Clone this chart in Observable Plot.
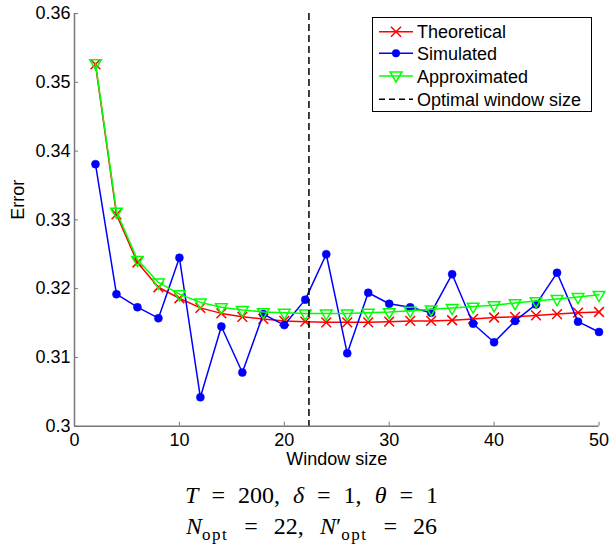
<!DOCTYPE html>
<html>
<head>
<meta charset="utf-8">
<script src="https://cdn.jsdelivr.net/npm/d3@7"></script>
<script src="https://cdn.jsdelivr.net/npm/@observablehq/plot@0.6"></script>
<style>
  body { margin: 0; background: white; }
  #wrap { position: relative; width: 609px; height: 545px; overflow: hidden; background: white; }
  .cap { position: absolute; left: 7px; width: 609px; text-align: center; font-family: "Liberation Serif", "DejaVu Serif", serif; font-size: 24px; line-height: 24px; word-spacing: 7px; white-space: nowrap; color: black; }
  .cap i { font-style: italic; }
  .cap sub { font-size: 17px; font-style: normal; letter-spacing: 1.5px; }
  #legend { position: absolute; left: 372px; top: 17px; }
</style>
</head>
<body>
<div id="wrap"></div>
<script>
// ---- data ----
const windowSize = [2,4,6,8,10,12,14,16,18,20,22,24,26,28,30,32,34,36,38,40,42,44,46,48,50];
const theoretical = [0.3526,0.3308,0.3238,0.3202,0.3186,0.3172,0.3164,0.3159,0.3156,0.3153,0.3152,0.3151,0.3151,0.3151,0.3152,0.3153,0.3153,0.3154,0.3156,0.3158,0.3159,0.3161,0.3163,0.3165,0.3166];
const simulated = [0.3381,0.3192,0.3173,0.3157,0.3245,0.3042,0.3145,0.3078,0.3163,0.3147,0.3184,0.3250,0.3106,0.3194,0.3178,0.3173,0.3165,0.3221,0.3149,0.3122,0.3153,0.3177,0.3223,0.3152,0.3137];
const approximated = [0.3528,0.3312,0.3242,0.3209,0.3192,0.3180,0.3173,0.3169,0.3166,0.3165,0.3164,0.3164,0.3164,0.3165,0.3166,0.3168,0.3170,0.3172,0.3174,0.3176,0.3179,0.3182,0.3185,0.3188,0.3191];
const optimalWindow = [22.35];
const xTicks = [0,10,20,30,40,50];
const yTicks = [0.30,0.31,0.32,0.33,0.34,0.35,0.36];
const yTickLabels = ["0.3","0.31","0.32","0.33","0.34","0.35","0.36"];
const seriesNames = ["Theoretical","Simulated","Approximated","Optimal window size"];

const theo = windowSize.map((x,i)=>({x, y: theoretical[i]}));
const sim = windowSize.map((x,i)=>({x, y: simulated[i]}));
const appr = windowSize.map((x,i)=>({x, y: approximated[i]}));

const W = 609, H = 475, mL = 74, mR = 10.5, mT = 13, mB = 49.3;
const plotW = W - mL - mR, plotH = H - mT - mB;
const axisGray = "#777";

const chart = Plot.plot({
  width: W, height: H,
  marginLeft: mL, marginRight: mR, marginTop: mT, marginBottom: mB,
  x: {domain: [0, 50]},
  y: {domain: [0.3, 0.36]},
  style: {fontFamily: "'Liberation Sans', Arial, sans-serif", fontSize: "18px", color: "black", background: "white"},
  marks: [
    Plot.axisX(xTicks, {tickSize: 0, tickPadding: 7, tickFormat: d => String(d), label: null}),
    Plot.axisY(yTicks, {tickSize: 0, tickPadding: 4, tickFormat: (d, i) => yTickLabels[i], label: null}),
    Plot.ruleX(xTicks, {x: d => d, insetTop: plotH - 4, stroke: axisGray, strokeWidth: 1}),
    Plot.ruleY(yTicks, {y: d => d, insetRight: plotW - 4, stroke: axisGray, strokeWidth: 1}),
    Plot.ruleX([0], {stroke: axisGray, strokeWidth: 1.5}),
    Plot.ruleY([0.3], {stroke: axisGray, strokeWidth: 1.5}),
    Plot.text(["Window size"], {frameAnchor: "bottom", text: d => d, dy: 39, lineAnchor: "bottom", fontSize: 18}),
    Plot.text(["Error"], {frameAnchor: "left", text: d => d, dx: -50.5, rotate: -90, lineAnchor: "bottom", fontSize: 18}),
    Plot.line(theo, {x: "x", y: "y", stroke: "#ff0000", strokeWidth: 1.5}),
    Plot.dot(theo, {x: "x", y: "y", symbol: "times", r: 4.5, stroke: "#ff0000", strokeWidth: 1.5}),
    Plot.line(sim, {x: "x", y: "y", stroke: "#0000ff", strokeWidth: 1.5}),
    Plot.dot(sim, {x: "x", y: "y", r: 4, fill: "#0000ff", stroke: "#0000ff", strokeWidth: 0.5}),
    Plot.line(appr, {x: "x", y: "y", stroke: "#00ff00", strokeWidth: 1.5}),
    Plot.dot(appr, {x: "x", y: "y", symbol: "triangle", rotate: 180, r: 4.3, fill: "none", stroke: "#00ff00", strokeWidth: 1.5}),
    Plot.ruleX(optimalWindow, {x: d => d, stroke: "black", strokeWidth: 1.5, strokeDasharray: "7,4"})
  ]
});

const wrap = document.getElementById("wrap");
wrap.appendChild(chart);

// legend
const lg = d3.select(wrap).append("svg").attr("id", "legend").attr("width", 221).attr("height", 96);
lg.append("rect").attr("x", 0.5).attr("y", 0.5).attr("width", 219).attr("height", 94)
  .attr("fill", "white").attr("stroke", "black").attr("stroke-width", 1);
const rowY = [14.7, 36.3, 59, 82.3];
const colors = ["#ff0000", "#0000ff", "#00ff00", "black"];
seriesNames.forEach((name, i) => {
  const y = rowY[i];
  const ln = lg.append("line").attr("x1", 7).attr("x2", 41).attr("y1", y).attr("y2", y)
    .attr("stroke", colors[i]).attr("stroke-width", 1.5);
  if (i === 3) ln.attr("stroke-dasharray", "6,4");
  const cx = 24;
  if (i === 0) {
    lg.append("path").attr("d", `M${cx-5},${y-5}L${cx+5},${y+5}M${cx-5},${y+5}L${cx+5},${y-5}`)
      .attr("stroke", colors[0]).attr("stroke-width", 1.5);
  } else if (i === 1) {
    lg.append("circle").attr("cx", cx).attr("cy", y).attr("r", 4).attr("fill", colors[1]);
  } else if (i === 2) {
    lg.append("path").attr("d", `M${cx-6},${y-4}L${cx+6},${y-4}L${cx},${y+6}Z`)
      .attr("fill", "none").attr("stroke", colors[2]).attr("stroke-width", 1.5);
  }
  lg.append("text").attr("x", 45).attr("y", y + 6.5).text(name)
    .attr("font-family", "'Liberation Sans', Arial, sans-serif").attr("font-size", 18).attr("fill", "black");
});

// caption
const c1 = document.createElement("div");
c1.className = "cap"; c1.style.top = "483px";
c1.innerHTML = '<i>T</i> = 200, <i>δ</i> = 1, <i>θ</i> = 1';
wrap.appendChild(c1);
const c2 = document.createElement("div");
c2.className = "cap"; c2.style.top = "514px"; c2.style.wordSpacing = "10px";
c2.innerHTML = '<i>N</i><sub>opt</sub> = 22, <i>N</i>′<sub>opt</sub> = 26';
wrap.appendChild(c2);
</script>
</body>
</html>
